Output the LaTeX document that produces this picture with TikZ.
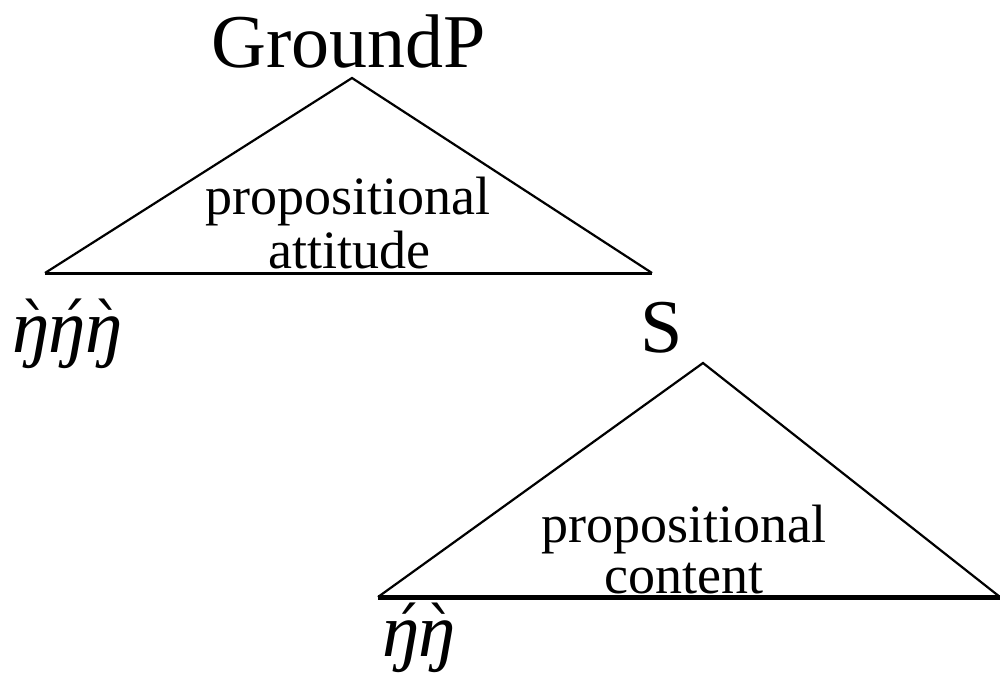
\documentclass[tikz,border=0pt]{standalone}
\usepackage{fontspec}
\setmainfont{Liberation Serif}
\newfontfamily\accfont{DejaVu Serif}
\newcommand\engtone[1]{\ooalign{ŋ\cr\hidewidth\kern0.14em\raisebox{0.04em}{\accfont\upshape\fontsize{62}{64}\selectfont #1}\hidewidth\cr}}
\newcommand\englow{\engtone{ˋ}}
\newcommand\enghigh{\engtone{ˊ}}
\begin{document}
\begin{tikzpicture}[x=1pt,y=-1pt,
  big/.style={font=\fontsize{76}{80}\selectfont, inner sep=0pt, anchor=base},
  mid/.style={font=\fontsize{54}{56}\selectfont, inner sep=0pt, anchor=base},
  tone/.style={font=\fontsize{76}{78}\selectfont\itshape, inner sep=0pt, anchor=base west},
  tri/.style={line width=2.2pt, line join=miter},
]
\useasboundingbox (0,0) rectangle (1000,680);
% triangle 1
\coordinate (a1) at (352,78);
\coordinate (l1) at (45,273);
\coordinate (r1) at (652,273);
\draw[tri] (l1) -- (a1) -- (r1);
\draw[line width=3pt] (l1) -- (r1);
\node[big] (gp) at (349,67) {GroundP};
\node[mid] (pa1) at (348,214) {propositional};
\node[mid] (att) at (349,268) {attitude};
\node[tone] (t1) at (12,352) {\englow\enghigh\englow};
% triangle 2
\coordinate (a2) at (703,363);
\coordinate (l2) at (378,597);
\coordinate (r2) at (1000,597);
\draw[tri] (l2) -- (a2) -- (r2);
\node[big] (s) at (662,352) {S};
\node[mid] (pa2) at (684,542) {propositional};
\node[mid] (cont) at (684,593) {content};
\draw[line width=5pt] (l2) -- (r2);
\node[tone] (t2) at (382,656) {\enghigh\englow};
\end{tikzpicture}
\end{document}
